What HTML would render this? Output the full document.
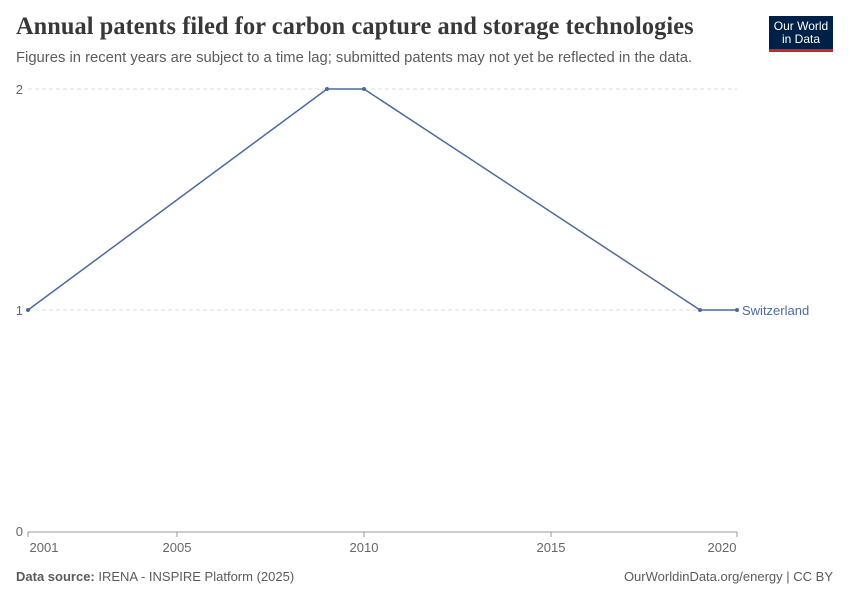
<!DOCTYPE html>
<html><head><meta charset="utf-8"><style>
body{margin:0;width:850px;height:600px;background:#fff;font-family:"Liberation Sans",sans-serif;position:relative;overflow:hidden}
.t{position:absolute;left:16px;top:13px;font-family:"Liberation Serif",serif;font-size:25px;color:#383838;letter-spacing:0.1px;font-weight:bold;transform:scaleX(0.972);transform-origin:left}
.s{position:absolute;left:16px;top:50px;font-size:14.8px;color:#5b5b5b}
.logo{position:absolute;left:769px;top:16px;width:64px;height:36px;background:#002147;border-bottom:3px solid #ce261e;color:#fff;font-size:12px;line-height:13px;text-align:center;padding-top:4px;box-sizing:border-box}
.f{position:absolute;top:569px;font-size:13px;color:#5b5b5b}
</style></head><body>
<div class="t">Annual patents filed for carbon capture and storage technologies</div>
<div class="s">Figures in recent years are subject to a time lag; submitted patents may not yet be reflected in the data.</div>
<div class="logo">Our World<br>in Data</div>
<svg width="850" height="600" style="position:absolute;left:0;top:0" font-family="Liberation Sans, sans-serif">
<g stroke="#ddd" stroke-dasharray="4,3"><line x1="28" y1="89" x2="737" y2="89"/><line x1="28" y1="310" x2="737" y2="310"/></g>
<line x1="28" y1="532" x2="737" y2="532" stroke="#999"/>
<g stroke="#999"><line x1="28" y1="532" x2="28" y2="537"/><line x1="177" y1="532" x2="177" y2="537"/><line x1="364" y1="532" x2="364" y2="537"/><line x1="551" y1="532" x2="551" y2="537"/><line x1="737" y1="532" x2="737" y2="537"/></g>
<g font-size="13" fill="#666" text-anchor="end"><text x="23" y="94">2</text><text x="23" y="315">1</text><text x="23" y="536">0</text></g>
<g font-size="13" fill="#666" text-anchor="middle"><text x="44" y="552">2001</text><text x="177" y="552">2005</text><text x="364" y="552">2010</text><text x="551" y="552">2015</text><text x="722" y="552">2020</text></g>
<polyline points="28,310 327,89 364,89 700,310 737,310" fill="none" stroke="#4c6a9c" stroke-width="1.5"/>
<g fill="#4c6a9c"><circle cx="28" cy="310" r="2"/><circle cx="327" cy="89" r="2"/><circle cx="364" cy="89" r="2"/><circle cx="700" cy="310" r="2"/><circle cx="737" cy="310" r="2"/></g>
<text x="742" y="315" font-size="13" fill="#4c6a9c">Switzerland</text>
</svg>
<div class="f" style="left:16px"><b>Data source:</b> IRENA - INSPIRE Platform (2025)</div>
<div class="f" style="right:17px">OurWorldinData.org/energy | CC BY</div>
</body></html>
